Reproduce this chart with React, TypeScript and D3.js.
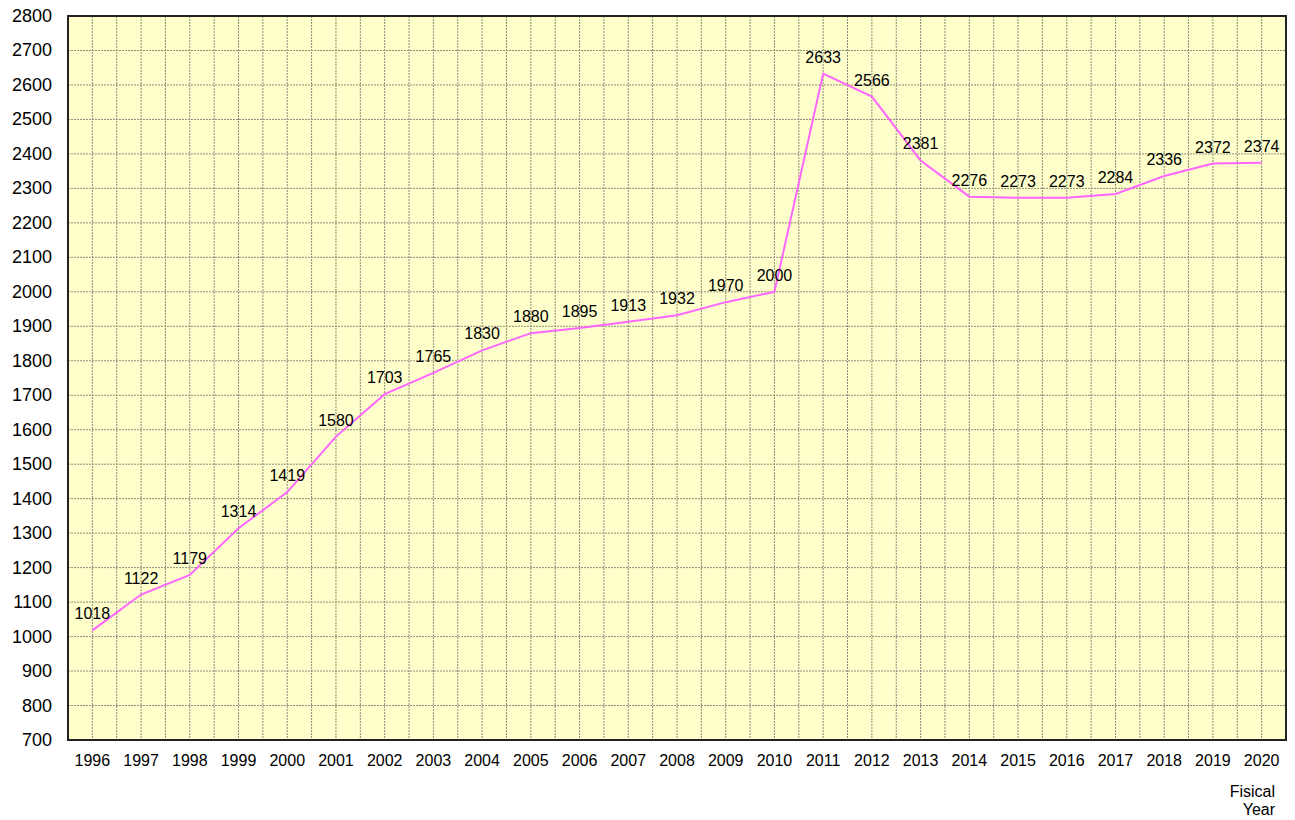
import * as d3 from 'd3';

const years = [
  '1996', '1997', '1998', '1999', '2000', '2001', '2002', '2003', '2004',
  '2005', '2006', '2007', '2008', '2009', '2010', '2011', '2012', '2013',
  '2014', '2015', '2016', '2017', '2018', '2019', '2020'
];
const values = [
  1018, 1122, 1179, 1314, 1419, 1580, 1703, 1765, 1830, 1880, 1895, 1913,
  1932, 1970, 2000, 2633, 2566, 2381, 2276, 2273, 2273, 2284, 2336, 2372, 2374
];
const yTicks = d3.range(700, 2801, 100);

export default function App() {
  const width = 1295;
  const height = 820;
  const left = 68;
  const right = 1286;
  const top = 16;
  const bottom = 740;

  const x = d3.scaleBand().domain(years).range([left, right]);
  const y = d3.scaleLinear().domain([700, 2800]).range([bottom, top]);
  const cx = (yr: string) => (x(yr) ?? 0) + x.bandwidth() / 2;

  const line = d3
    .line<number>()
    .x((_, i) => cx(years[i]))
    .y((d) => y(d));

  // grid at band edges and band centres
  const vLines: number[] = [];
  years.forEach((yr, i) => {
    if (i > 0) vLines.push(x(yr) ?? 0);
    vLines.push(cx(yr));
  });

  const font = "'Liberation Sans', Arial, sans-serif";

  return (
    <svg
      width={width}
      height={height}
      style={{ position: 'absolute', left: 0, top: 0, fontFamily: font }}
    >
      <rect x={left} y={top} width={right - left} height={bottom - top} fill="#FFFFCC" />
      {yTicks.slice(1, -1).map((t) => (
        <line
          key={'h' + t}
          x1={left}
          x2={right}
          y1={y(t)}
          y2={y(t)}
          stroke="#8c8c7a"
          strokeWidth={1}
          strokeDasharray="2 1"
        />
      ))}
      {vLines.map((v, i) => (
        <line
          key={'v' + i}
          x1={v}
          x2={v}
          y1={top}
          y2={bottom}
          stroke="#8c8c7a"
          strokeWidth={1}
          strokeDasharray="2 1"
        />
      ))}
      <rect
        x={left}
        y={top}
        width={right - left}
        height={bottom - top}
        fill="none"
        stroke="#222"
        strokeWidth={2}
      />
      {yTicks.map((t) => (
        <text key={'yt' + t} x={52} y={y(t) + 6} textAnchor="end" fontSize={18} fill="#000">
          {t}
        </text>
      ))}
      {years.map((yr) => (
        <text key={'xt' + yr} x={cx(yr)} y={766} textAnchor="middle" fontSize={16} fill="#000">
          {yr}
        </text>
      ))}
      <text x={1275} y={797} textAnchor="end" fontSize={16} fill="#000">
        Fisical
      </text>
      <text x={1275} y={815} textAnchor="end" fontSize={16} fill="#000">
        Year
      </text>
      <path d={line(values) || ''} fill="none" stroke="#FF66FF" strokeWidth={2} />
      {values.map((v, i) => (
        <text
          key={'l' + i}
          x={cx(years[i])}
          y={y(v) - 11}
          textAnchor="middle"
          fontSize={16}
          fill="#000"
        >
          {v}
        </text>
      ))}
    </svg>
  );
}
